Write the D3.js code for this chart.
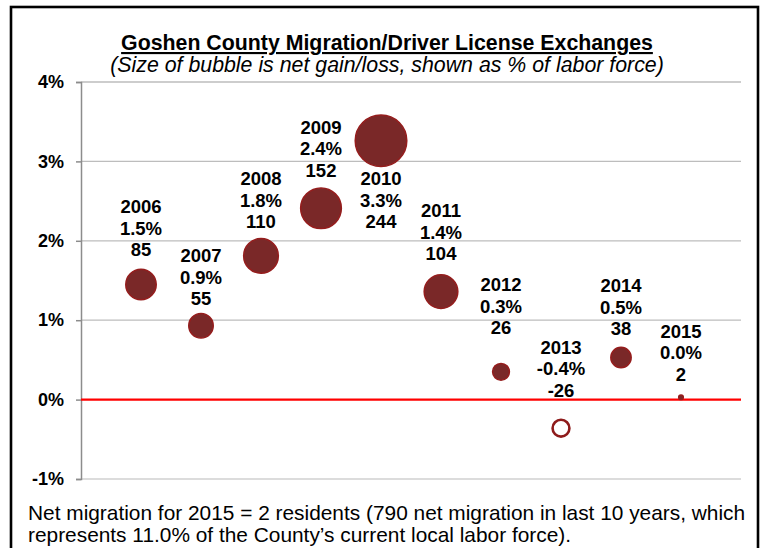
<!DOCTYPE html>
<html>
<head>
<meta charset="utf-8">
<script src="https://cdn.jsdelivr.net/npm/d3@7"></script>
<style>
  body { margin: 0; background: #fff; }
  svg text { font-family: "Liberation Sans", Arial, sans-serif; }
</style>
</head>
<body>
<div id="chart"></div>
<script>
// Goshen County migration bubble chart

const years = [2006, 2007, 2008, 2009, 2010, 2011, 2012, 2013, 2014, 2015];
const pctValues = [1.45, 0.93, 1.81, 2.41, 3.26, 1.36, 0.35, -0.36, 0.53, 0.03];
const pctLabels = ["1.5%", "0.9%", "1.8%", "2.4%", "3.3%", "1.4%", "0.3%", "-0.4%", "0.5%", "0.0%"];
const netMigration = [85, 55, 110, 152, 244, 104, 26, -26, 38, 2];
const yTicks = [-1, 0, 1, 2, 3, 4];

// label placement: px from bubble centre to the nearest label line (negative = below)
const labelGap = [35, 27, 34, 38, -38, 38, 44, 38, 29, 23];

const W = 764, H = 548;
const plot = {left: 81, right: 741, top: 82, bottom: 479};

const svg = d3.select("#chart").append("svg")
    .attr("width", W)
    .attr("height", H);

// frame
svg.append("rect")
    .attr("x", 11).attr("y", 7)
    .attr("width", 747).attr("height", 580)
    .attr("fill", "#fff")
    .attr("stroke", "#000")
    .attr("stroke-width", 2.6);

// scale a text element so it spans the given width
function fitWidth(sel, target) {
    const size = parseFloat(sel.style("font-size"));
    const w = sel.node().getComputedTextLength();
    sel.style("font-size", (size * target / w).toFixed(2) + "px");
}

const title = svg.append("text")
    .attr("x", 387).attr("y", 50)
    .attr("text-anchor", "middle")
    .style("font-size", "19px")
    .style("font-weight", "bold")
    .style("text-decoration", "underline")
    .text("Goshen County Migration/Driver License Exchanges");
fitWidth(title, 532);

const subtitle = svg.append("text")
    .attr("x", 387).attr("y", 72)
    .attr("text-anchor", "middle")
    .style("font-size", "18px")
    .style("font-style", "italic")
    .text("(Size of bubble is net gain/loss, shown as % of labor force)");
fitWidth(subtitle, 554);

const x = d3.scaleLinear().domain([2005, 2016]).range([plot.left, plot.right]);
const y = d3.scaleLinear().domain([-1, 4]).range([plot.bottom, plot.top]);
const r = d3.scaleSqrt().domain([0, 244]).range([0, 25.8]);

// gridlines
svg.append("g")
    .selectAll("line")
    .data(yTicks.filter(d => d !== 0))
    .join("line")
    .attr("x1", plot.left).attr("x2", plot.right)
    .attr("y1", d => y(d)).attr("y2", d => y(d))
    .attr("stroke", d => d === -1 ? "#d0d0d0" : "#bdbdbd")
    .attr("stroke-width", 1.3);

// y axis
const yAxis = svg.append("g")
    .attr("transform", `translate(${plot.left},0)`)
    .call(d3.axisLeft(y).tickValues(yTicks).tickSize(5).tickPadding(12)
        .tickFormat(d => d + "%"));
yAxis.select(".domain").attr("stroke", "#8c8c8c").attr("stroke-width", 1.5);
yAxis.selectAll(".tick line").attr("stroke", "#8c8c8c").attr("stroke-width", 1.5);
yAxis.selectAll(".tick text")
    .attr("fill", "#000")
    .style("font-family", "'Liberation Sans', Arial, sans-serif")
    .style("font-size", "18px")
    .style("font-weight", "bold");

// zero line
svg.append("line")
    .attr("x1", plot.left).attr("x2", plot.right)
    .attr("y1", y(0)).attr("y2", y(0))
    .attr("stroke", "#ff0000")
    .attr("stroke-width", 2.2);

const data = years.map((yr, i) => ({
    year: yr, pct: pctValues[i], label: pctLabels[i], net: netMigration[i], gap: labelGap[i]
}));

// bubbles
svg.append("g")
    .selectAll("circle")
    .data(data)
    .join("circle")
    .attr("cx", d => x(d.year))
    .attr("cy", d => y(d.pct))
    .attr("r", d => r(Math.abs(d.net)))
    .attr("fill", d => d.net < 0 ? "#fff" : "#7a2828")
    .attr("stroke", d => d.net < 0 ? "#8e1b1b" : "#951d1d")
    .attr("stroke-width", d => d.net < 0 ? 2.6 : 1.5);

// data labels: year, percent, net
const lineH = 21.5;
const labels = svg.append("g")
    .selectAll("text")
    .data(data)
    .join("text")
    .attr("text-anchor", "middle")
    .style("font-size", "18.5px")
    .style("font-weight", "bold")
    .attr("fill", "#000");

labels.each(function(d) {
    const cy = y(d.pct);
    // centre of the first line: above the bubble, or below it when gap < 0
    const first = d.gap > 0 ? cy - d.gap - 2 * lineH : cy - d.gap;
    const t = d3.select(this);
    [String(d.year), d.label, String(d.net)].forEach((s, k) => {
        t.append("tspan")
            .attr("x", x(d.year))
            .attr("y", first + k * lineH + 6.6)
            .text(s);
    });
});

// footnote
const note1 = svg.append("text")
    .attr("x", 28).attr("y", 520)
    .style("font-size", "20px")
    .text("Net migration for 2015 = 2 residents (790 net migration in last 10 years, which");
fitWidth(note1, 717);
svg.append("text")
    .attr("x", 28).attr("y", 542)
    .style("font-size", note1.style("font-size"))
    .text("represents 11.0% of the County\u2019s current local labor force).");
</script>
</body>
</html>
